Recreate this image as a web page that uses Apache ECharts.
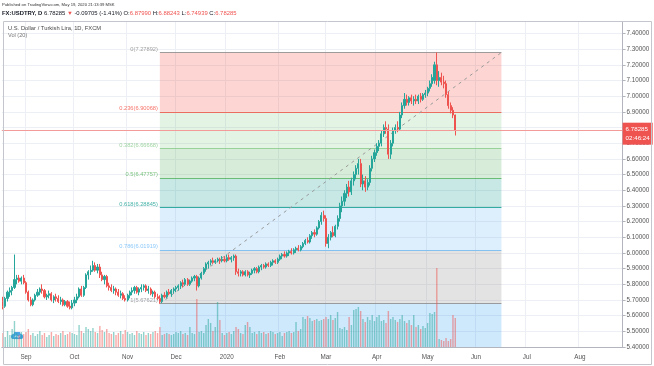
<!DOCTYPE html>
<html><head><meta charset="utf-8">
<script src="https://cdn.jsdelivr.net/npm/echarts@6/dist/echarts.min.js"></script>
<style>html,body{margin:0;padding:0;background:#fff}#c{width:654px;height:366px}</style>
</head><body><div id="c"></div>
<script>
// ---------------- DATA ----------------
const startDate = '2019-08-19';   // first trading day on the axis
const endDate = '2020-08-27';     // last (empty) trading day on the axis
const tickDates = ['2019-09-02','2019-10-01','2019-11-01','2019-12-02','2020-01-01','2020-02-03','2020-03-02','2020-04-01','2020-05-01','2020-06-01','2020-07-01','2020-08-03'];
const tickLabels = ['Sep','Oct','Nov','Dec','2020','Feb','Mar','Apr','May','Jun','Jul','Aug'];
const priceTicks = [5.4,5.5,5.6,5.7,5.8,5.9,6.0,6.1,6.2,6.3,6.4,6.5,6.6,6.7,6.8,6.9,7.0,7.1,7.2,7.3,7.4];
// daily candles [open, high, low, close], one per weekday from startDate
const ohlc = [
[5.69,5.72,5.64,5.66],[5.66,5.72,5.65,5.71],[5.71,5.76,5.69,5.75],[5.75,5.78,5.72,5.76],[5.76,5.79,5.73,5.78],
[5.78,5.99,5.77,5.83],[5.83,5.86,5.80,5.84],[5.84,5.86,5.81,5.82],[5.82,5.85,5.80,5.84],[5.84,5.86,5.80,5.81],
[5.81,5.82,5.74,5.75],[5.75,5.76,5.69,5.70],[5.70,5.72,5.66,5.67],[5.67,5.71,5.66,5.70],[5.70,5.74,5.69,5.73],
[5.73,5.77,5.72,5.75],[5.75,5.78,5.73,5.77],[5.77,5.80,5.74,5.76],[5.76,5.77,5.71,5.72],[5.72,5.74,5.70,5.73],
[5.73,5.76,5.71,5.74],[5.74,5.75,5.69,5.70],[5.70,5.73,5.68,5.72],[5.72,5.74,5.69,5.71],[5.71,5.73,5.68,5.69],
[5.69,5.72,5.67,5.70],[5.70,5.71,5.66,5.67],[5.67,5.70,5.66,5.69],[5.69,5.70,5.65,5.66],[5.66,5.69,5.64,5.65],
[5.65,5.70,5.64,5.68],
[5.68,5.72,5.66,5.70],[5.70,5.74,5.68,5.72],[5.72,5.78,5.71,5.77],[5.77,5.79,5.72,5.73],[5.73,5.79,5.72,5.78],
[5.78,5.87,5.77,5.86],[5.86,5.89,5.83,5.88],[5.88,5.92,5.86,5.89],[5.89,5.95,5.88,5.92],[5.92,5.94,5.88,5.89],
[5.89,5.93,5.87,5.91],[5.91,5.93,5.84,5.86],[5.86,5.88,5.82,5.83],[5.83,5.86,5.80,5.85],[5.85,5.86,5.78,5.79],
[5.79,5.81,5.76,5.78],[5.78,5.80,5.75,5.76],[5.76,5.79,5.74,5.77],[5.77,5.78,5.73,5.75],[5.75,5.77,5.72,5.73],
[5.73,5.76,5.71,5.74],[5.74,5.75,5.70,5.71],[5.71,5.73,5.69,5.70],
[5.70,5.74,5.69,5.73],[5.73,5.76,5.71,5.75],[5.75,5.78,5.73,5.76],[5.76,5.79,5.74,5.78],[5.78,5.79,5.74,5.75],
[5.75,5.78,5.73,5.77],[5.77,5.80,5.75,5.78],[5.78,5.80,5.76,5.79],[5.79,5.80,5.75,5.76],[5.76,5.79,5.74,5.77],
[5.77,5.78,5.73,5.74],[5.74,5.76,5.72,5.75],[5.75,5.76,5.71,5.72],[5.72,5.74,5.70,5.71],[5.71,5.73,5.676,5.69],
[5.69,5.74,5.68,5.73],[5.73,5.75,5.71,5.72],[5.72,5.76,5.71,5.75],[5.75,5.77,5.73,5.74],[5.74,5.77,5.72,5.76],
[5.76,5.78,5.74,5.77],
[5.77,5.79,5.75,5.78],[5.78,5.80,5.76,5.79],[5.79,5.82,5.77,5.81],[5.81,5.83,5.78,5.80],[5.80,5.84,5.79,5.83],
[5.83,5.84,5.79,5.80],[5.80,5.83,5.79,5.82],[5.82,5.85,5.81,5.84],[5.84,5.86,5.82,5.85],[5.85,5.86,5.76,5.79],
[5.79,5.85,5.78,5.84],[5.84,5.88,5.83,5.87],[5.87,5.91,5.86,5.90],[5.90,5.94,5.88,5.93],[5.93,5.95,5.90,5.94],
[5.94,5.96,5.92,5.95],[5.95,5.97,5.93,5.94],[5.94,5.96,5.93,5.95],[5.95,5.97,5.94,5.96],[5.96,5.97,5.93,5.95],
[5.95,5.98,5.94,5.96],[5.96,5.98,5.94,5.95],
[5.95,5.99,5.94,5.97],[5.97,5.99,5.95,5.96],[5.96,5.98,5.94,5.97],[5.97,5.99,5.95,5.98],[5.98,5.99,5.86,5.88],
[5.88,5.90,5.85,5.87],[5.87,5.89,5.85,5.88],[5.88,5.89,5.85,5.86],[5.86,5.89,5.85,5.88],[5.88,5.89,5.85,5.86],
[5.86,5.88,5.84,5.87],[5.87,5.90,5.86,5.89],[5.89,5.91,5.87,5.90],[5.90,5.91,5.87,5.88],[5.88,5.92,5.87,5.91],
[5.91,5.93,5.89,5.92],[5.92,5.93,5.90,5.91],[5.91,5.94,5.90,5.93],[5.93,5.94,5.91,5.92],[5.92,5.95,5.91,5.94],
[5.94,5.96,5.92,5.95],[5.95,5.96,5.93,5.94],[5.94,5.97,5.93,5.96],
[5.96,5.99,5.95,5.98],[5.98,6.00,5.96,5.99],[5.99,6.01,5.97,5.98],[5.98,6.01,5.97,6.00],[6.00,6.02,5.98,6.01],
[6.01,6.03,5.99,6.00],[6.00,6.03,5.99,6.02],[6.02,6.04,6.00,6.03],[6.03,6.05,6.01,6.02],[6.02,6.05,6.01,6.04],
[6.04,6.07,6.03,6.06],[6.06,6.09,6.05,6.08],[6.08,6.10,6.06,6.07],[6.07,6.12,6.06,6.11],[6.11,6.14,6.09,6.13],
[6.13,6.15,6.10,6.12],[6.12,6.17,6.11,6.16],[6.16,6.21,6.15,6.20],[6.20,6.26,6.18,6.24],[6.24,6.27,6.20,6.22],
[6.22,6.24,6.04,6.06],[6.06,6.12,6.03,6.10],[6.10,6.14,6.08,6.13],[6.13,6.17,6.10,6.11],[6.11,6.18,6.10,6.17],
[6.17,6.24,6.15,6.22],[6.22,6.32,6.20,6.30],[6.30,6.36,6.26,6.33],[6.33,6.40,6.30,6.38],[6.38,6.44,6.35,6.42],
[6.42,6.46,6.36,6.39],[6.39,6.48,6.37,6.46],[6.46,6.52,6.43,6.50],[6.50,6.56,6.47,6.54],[6.54,6.60,6.50,6.57],
[6.57,6.60,6.42,6.44],[6.44,6.50,6.40,6.46],[6.46,6.49,6.39,6.42],[6.42,6.47,6.40,6.45],[6.45,6.56,6.43,6.54],
[6.54,6.62,6.52,6.60],[6.60,6.66,6.58,6.64],
[6.64,6.70,6.62,6.68],[6.68,6.72,6.65,6.70],[6.70,6.78,6.68,6.76],[6.76,6.82,6.74,6.80],[6.80,6.84,6.76,6.79],
[6.79,6.82,6.60,6.63],[6.63,6.72,6.60,6.70],[6.70,6.80,6.68,6.78],[6.78,6.82,6.76,6.80],[6.80,6.84,6.77,6.79],
[6.79,6.90,6.78,6.88],[6.88,6.96,6.86,6.94],[6.94,7.02,6.92,6.98],[6.98,7.01,6.94,6.96],[6.96,7.00,6.94,6.99],
[6.99,7.01,6.95,6.97],[6.97,7.00,6.94,6.98],[6.98,7.01,6.95,6.97],[6.97,7.01,6.95,7.00],[7.00,7.02,6.96,6.98],
[6.98,7.02,6.97,7.01],[7.01,7.04,6.99,7.02],
[7.02,7.06,7.00,7.05],[7.05,7.10,7.03,7.08],[7.08,7.14,7.06,7.12],[7.10,7.22,7.08,7.20],[7.20,7.27892,7.07,7.10],
[7.10,7.16,7.06,7.12],[7.12,7.15,7.07,7.09],[7.09,7.13,7.05,7.08],[7.08,7.10,6.99,7.01],[7.01,7.03,6.92,6.94],
[6.94,6.96,6.89,6.91],[6.91,6.93,6.86,6.8799],[6.8799,6.88243,6.74939,6.78285]
];
const volumes = [
14,10,16,12,18,26,14,12,15,13,
15,18,12,14,11,13,16,12,14,10,12,15,11,13,12,14,16,12,13,15,14,
13,12,22,16,14,20,18,16,19,15,14,21,17,15,18,14,13,15,12,14,16,13,17,
15,13,14,12,16,14,13,15,12,14,13,15,16,14,20,12,13,14,13,12,13,
15,14,16,13,14,12,20,14,13,48,15,16,14,22,28,24,16,20,45,27,14,12,
14,15,13,16,20,18,14,13,22,25,20,14,15,13,16,14,15,13,14,16,15,13,14,
15,11,14,15,16,14,15,25,16,18,30,28,31,29,26,27,28,26,27,28,
30,28,32,27,29,35,19,18,20,17,30,22,37,38,40,36,28,25,30,27,32,26,
30,32,26,27,24,36,28,30,27,25,28,32,26,24,27,22,32,20,22,18,21,19,
24,34,33,35,79,8,7,6,9,6,8,32,29
];
// Fibonacci retracement drawing
const fibStart = '2019-11-21';
const fibEnd = '2020-06-16';
const fibRatios = ['0','0.236','0.382','0.5','0.618','0.786','1'];
const fibPrices = [7.27892,6.90068,6.66668,6.47757,6.28845,6.01919,5.67621];
const fibExtPrice = 4.68574; // 1.618 level (below view)
const fibColors = ['#808080','#f44336','#81c784','#4caf50','#009688','#64b5f6','#808080','#2196f3'];
const countdown = '02:46:24';
const header1 = 'Published on TradingView.com, May 19, 2020 21:13:39 MSK';
const symbolTitle = 'U.S. Dollar / Turkish Lira, 1D, FXCM';
const volTitle = 'Vol (20)';

// ---------------- BUILD ----------------
const dates = [];
for (let d = new Date(startDate + 'T00:00:00Z'); d <= new Date(endDate + 'T00:00:00Z'); d.setUTCDate(d.getUTCDate() + 1)) {
  const w = d.getUTCDay();
  if (w === 0 || w === 6) continue;
  dates.push(d.toISOString().slice(0, 10));
}
const candleData = ohlc.map(r => [r[0], r[3], r[2], r[1]]);
const UP = '#26a69a', DOWN = '#ef5350';
const volData = volumes.map((v, i) => ({
  value: v,
  itemStyle: { color: ohlc[i][3] >= ohlc[i][0] ? 'rgba(38,166,154,0.5)' : 'rgba(239,83,80,0.5)' }
}));
const iS = dates.indexOf(fibStart), iE = dates.indexOf(fibEnd);
const last = ohlc[ohlc.length - 1];
const prevClose = ohlc[ohlc.length - 2][3];
const chg = last[3] - prevClose;
const pct = chg / prevClose * 100;

const zones = [];
for (let k = 0; k < fibPrices.length; k++) {
  const top = fibPrices[k];
  const bot = k + 1 < fibPrices.length ? fibPrices[k + 1] : fibExtPrice;
  zones.push([
    { coord: [iS, top], itemStyle: { color: fibColors[k + 1], opacity: 0.22 } },
    { coord: [iE, bot] }
  ]);
}
const fibLines = fibPrices.map((p, k) => [
  { coord: [iS, p], lineStyle: { color: fibColors[k], width: 1, type: 'solid', opacity: 0.75 },
    label: { show: true, position: 'start', distance: 2, offset: [0, -3.5], color: fibColors[k],
      fontSize: 5.7, formatter: fibRatios[k] + '(' + p.toFixed(5) + ')' } },
  { coord: [iE, p] }
]);
fibLines.push([
  { coord: [iS, fibPrices[fibPrices.length - 1]], lineStyle: { color: '#9a9a9a', width: 1, type: [3, 4] }, label: { show: false } },
  { coord: [iE, fibPrices[0]] }
]);

const FONT = 'Liberation Sans, Arial, sans-serif';
const isTick = (i, v) => tickDates.indexOf(v) >= 0;

const chart = echarts.init(document.getElementById('c'), null, { renderer: 'canvas' });
chart.setOption({
  animation: false,
  backgroundColor: '#ffffff',
  textStyle: { fontFamily: FONT },
  grid: { left: 1.77, right: 31.4, top: 22, bottom: 19, containLabel: false },
  xAxis: {
    type: 'category', data: dates, boundaryGap: true,
    axisLine: { show: true, lineStyle: { color: '#b2b5be' } },
    axisTick: { show: false },
    axisLabel: { interval: isTick, formatter: v => tickLabels[tickDates.indexOf(v)], fontSize: 6.3, color: '#555', margin: 7, fontFamily: FONT },
    splitLine: { show: true, interval: isTick, lineStyle: { color: '#eceff4', width: 1 } }
  },
  yAxis: [{
    type: 'value', position: 'right', min: 5.4, max: 7.4734,
    axisLine: { show: true, lineStyle: { color: '#b2b5be' } },
    axisTick: { show: true, length: 3, customValues: priceTicks, lineStyle: { color: '#b2b5be' } },
    axisLabel: { customValues: priceTicks, formatter: v => v.toFixed(5), fontSize: 6.3, color: '#555', margin: 4, fontFamily: FONT },
    splitLine: { show: true, lineStyle: { color: '#eceff4', width: 1 } }
  }, {
    type: 'value', min: 0, max: 325, show: false, splitLine: { show: false }
  }],
  series: [{
    name: 'fib', type: 'line', data: ohlc.map(r => r[3]), showSymbol: false, silent: true, z: 1,
    lineStyle: { opacity: 0 }, tooltip: { show: false },
    markArea: { silent: true, z: 0, data: zones },
    markLine: { silent: true, z: 1, symbol: ['none', 'none'], animation: false, data: fibLines }
  }, {
    name: 'Vol', type: 'bar', yAxisIndex: 1, data: volData, barWidth: 1.4, z: 2, silent: true
  }, {
    name: 'USDTRY', type: 'candlestick', data: candleData, z: 3, barWidth: 1.6, silent: true,
    itemStyle: { color: UP, color0: DOWN, borderColor: UP, borderColor0: DOWN, borderWidth: 1 },
    markLine: {
      silent: true, z: 4, symbol: ['none', 'none'], animation: false,
      data: [{
        yAxis: last[3],
        lineStyle: { color: '#f29b99', width: 1, type: 'solid' },
        label: {
          show: true, position: 'end', distance: 0, offset: [0, 3],
          formatter: '{a|' + last[3].toFixed(5) + '}\n{a|' + countdown + '}',
          backgroundColor: '#ef5350', padding: [2, 3, 2, 3],
          rich: { a: { color: '#fff', fontSize: 6.2, lineHeight: 9, fontFamily: FONT } }
        }
      }]
    }
  }],
  graphic: [
    { type: 'rect', shape: { x: 3.5, y: 21.5, width: 648, height: 343 }, style: { fill: 'none', stroke: '#c3c6cd', lineWidth: 1 }, z: 10, silent: true },
    { type: 'text', left: 2, top: 2.5, style: { text: header1, fill: '#333', fontSize: 4.2, fontFamily: FONT }, z: 10 },
    { type: 'text', left: 2, top: 10.5, z: 10, style: {
      text: '{b|FX:USDTRY, D} {n|' + last[3].toFixed(5) + '} {r|▼} {n|' + chg.toFixed(5) + ' (' + pct.toFixed(2) + '%)} {n|O:}{r|' + last[0].toFixed(5) + '} {n|H:}{r|' + last[1].toFixed(5) + '} {n|L:}{r|' + last[2].toFixed(5) + '} {n|C:}{r|' + last[3].toFixed(5) + '}',
      fontSize: 5.9, fontFamily: FONT, fill: '#131722',
      rich: {
        b: { fill: '#131722', fontWeight: 'bold', fontSize: 5.9, fontFamily: FONT },
        n: { fill: '#131722', fontSize: 5.9, fontFamily: FONT },
        r: { fill: '#ef5350', fontSize: 5.9, fontFamily: FONT }
      }
    } },
    { type: 'text', left: 8, top: 25, style: { text: symbolTitle, fill: '#4a4a4a', fontSize: 5.8, fontFamily: FONT }, z: 10 },
    { type: 'text', left: 8, top: 32.5, style: { text: volTitle, fill: '#777', fontSize: 5.6, fontFamily: FONT }, z: 10 },
    { type: 'group', left: 11, top: 331, z: 10, children: [
      { type: 'circle', shape: { cx: 2.5, cy: 5.5, r: 2.6 }, style: { fill: '#4ca3e6' } },
      { type: 'circle', shape: { cx: 6, cy: 3.5, r: 3.5 }, style: { fill: '#4ca3e6' } },
      { type: 'circle', shape: { cx: 9.5, cy: 5.5, r: 2.6 }, style: { fill: '#4ca3e6' } },
      { type: 'rect', shape: { x: 2.5, y: 5, width: 7, height: 3.1 }, style: { fill: '#4ca3e6' } },
      { type: 'polyline', shape: { points: [[3, 6.2], [5, 4.8], [7, 6.2], [9, 4.8]] }, style: { stroke: '#fff', lineWidth: 0.8, fill: 'none' } }
    ] }
  ]
});
</script>
</body></html>
